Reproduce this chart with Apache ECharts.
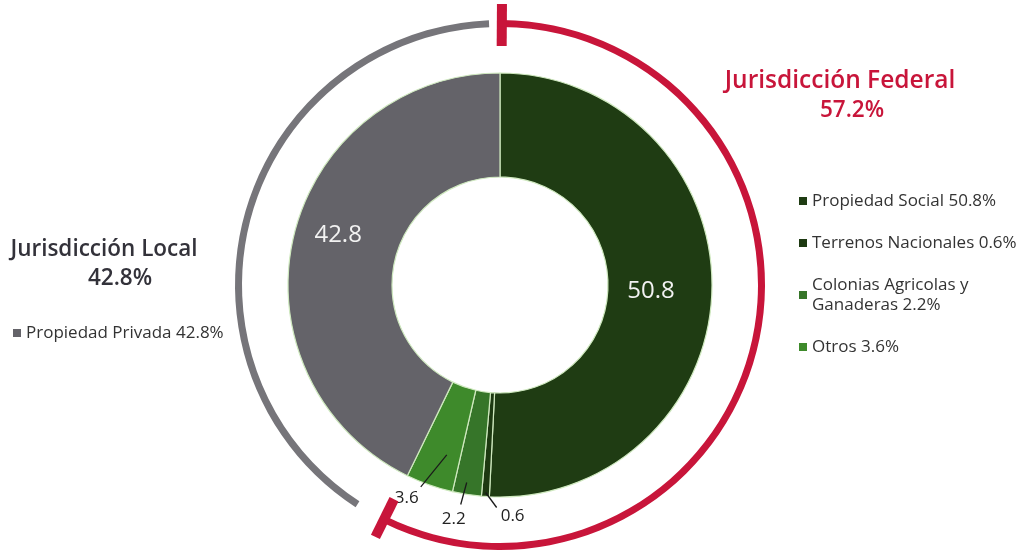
<!DOCTYPE html>
<html>
<head>
<meta charset="utf-8">
<script src="https://cdn.jsdelivr.net/npm/echarts@6/dist/echarts.min.js"></script>
<style>
html,body{margin:0;padding:0;background:#fff;}
#chart{width:1028px;height:554px;}
</style>
</head>
<body>
<div id="chart"></div>
<script>
// ---- data ----
const categories = ['Propiedad Social', 'Terrenos Nacionales', 'Colonias Agricolas y Ganaderas', 'Otros', 'Propiedad Privada'];
const values = [50.8, 0.6, 2.2, 3.6, 42.8];
const groups = ['Jurisdicción Federal', 'Jurisdicción Local'];
const groupValues = [57.2, 42.8];
const federalItems = ['Propiedad Social', 'Terrenos Nacionales', 'Colonias Agricolas y Ganaderas', 'Otros'];
const localItems = ['Propiedad Privada'];

// ---- style ----
const FONT = 'Open Sans';
const sliceColors = ['#1f3c13', '#1d3911', '#367529', '#3e8a2b', '#646369'];
const RED = '#c8153a';
const RING_GREY = '#76757a';
const CX = 500, CY = 285;
const INNER_LABEL = [true, false, false, false, true];
// inside label nudges
const innerShift = { 0: [-12, 2], 4: [-3, -13] };
// small outside labels: start radius, start shift, line vector, label offset
const smallStyle = {
  1: { r: 208, sh: [0, 0], vec: [11, 15], off: [16, 9] },
  2: { r: 200, sh: [-2, 0], vec: [-6, 22], off: [-7, 15] },
  3: { r: 178, sh: [6, 2], vec: [-26, 32], off: [-14, 11] }
};
const OVERLAY_R = 190;

const mainData = categories.map((n, i) => ({
  name: n, value: values[i],
  itemStyle: { color: sliceColors[i] },
  label: { show: INNER_LABEL[i] }
}));
const overlayData = categories.map((n, i) => ({
  name: n, value: values[i],
  label: { show: !INNER_LABEL[i] },
  labelLine: { show: !INNER_LABEL[i] }
}));

const chart = echarts.init(document.getElementById('chart'), null, { renderer: 'canvas' });

function legendText(name) {
  const i = categories.indexOf(name);
  return name.replace('Agricolas y ', 'Agricolas y\n') + ' ' + values[i] + '%';
}

// bars at the ends of the federal arc
const startDeg = 0.4;
const barAngles = [startDeg, startDeg + groupValues[0] / 100 * 360];
const bars = barAngles.map(a => {
  const t = a * Math.PI / 180;
  const s = Math.sin(t), c = Math.cos(t);
  return {
    type: 'line', silent: true, z: 10,
    shape: { x1: CX + 239 * s, y1: CY - 239 * c, x2: CX + 281 * s, y2: CY - 281 * c },
    style: { stroke: RED, lineWidth: 10, lineCap: 'butt' }
  };
});

const legendCommon = {
  orient: 'vertical', padding: 0, itemWidth: 8, itemHeight: 8, icon: 'rect',
  formatter: legendText, selectedMode: false,
  itemStyle: { borderWidth: 0 },
  textStyle: { color: '#333', fontSize: 17, lineHeight: 20, fontFamily: FONT }
};

const option = {
  backgroundColor: '#ffffff',
  animation: false,
  textStyle: { fontFamily: FONT },
  title: [
    { text: groups[0], left: 840, top: 69, textAlign: 'center', padding: 0,
      textStyle: { color: RED, fontSize: 24.5, fontWeight: 600, fontFamily: FONT } },
    { text: groupValues[0] + '%', left: 852, top: 99, textAlign: 'center', padding: 0,
      textStyle: { color: RED, fontSize: 22.5, fontWeight: 600, fontFamily: FONT } },
    { text: groups[1], left: 104, top: 238, textAlign: 'center', padding: 0,
      textStyle: { color: '#33323a', fontSize: 22.5, fontWeight: 600, fontFamily: FONT } },
    { text: groupValues[1] + '%', left: 120, top: 267, textAlign: 'center', padding: 0,
      textStyle: { color: '#33323a', fontSize: 22.5, fontWeight: 600, fontFamily: FONT } }
  ],
  legend: [
    Object.assign({}, legendCommon, { data: federalItems, left: 799, top: 191, itemGap: 22 }),
    Object.assign({}, legendCommon, { data: localItems, left: 13, top: 323 })
  ],
  graphic: bars,
  series: [
    {
      name: 'main', type: 'pie', center: [CX, CY], radius: [108, 212],
      startAngle: 90, clockwise: true, silent: true,
      avoidLabelOverlap: false,
      itemStyle: { borderColor: '#cfe9bf', borderWidth: 1.2 },
      label: { position: 'inside', formatter: '{c}', color: '#f2f2f2', fontSize: 24, fontFamily: FONT },
      labelLine: { show: false },
      labelLayout: function (p) {
        const sh = innerShift[p.dataIndex];
        if (!sh || !p.labelRect) return {};
        const r = p.labelRect;
        return { x: r.x + r.width / 2 + sh[0], y: r.y + r.height / 2 + sh[1], align: 'center', verticalAlign: 'middle' };
      },
      data: mainData
    },
    {
      name: 'labels', type: 'pie', center: [CX, CY], radius: [108, OVERLAY_R],
      startAngle: 90, clockwise: true, silent: true, z: 5,
      avoidLabelOverlap: false,
      itemStyle: { color: 'rgba(0,0,0,0)', borderWidth: 0 },
      label: { position: 'outside', formatter: '{c}', color: '#222', fontSize: 17, fontFamily: FONT },
      labelLine: { show: true, length: 20, length2: 2, lineStyle: { color: '#1a1a1a', width: 1.3 } },
      labelLayout: function (p) {
        const st = smallStyle[p.dataIndex];
        if (!st || !p.labelLinePoints) return {};
        const p0 = p.labelLinePoints[0];
        const k = st.r / OVERLAY_R;
        const s = [CX + (p0[0] - CX) * k + st.sh[0], CY + (p0[1] - CY) * k + st.sh[1]];
        const e = [s[0] + st.vec[0], s[1] + st.vec[1]];
        return {
          x: e[0] + st.off[0], y: e[1] + st.off[1],
          align: 'center', verticalAlign: 'middle',
          labelLinePoints: [s, e, e]
        };
      },
      data: overlayData
    },
    {
      name: 'federalRing', type: 'pie', center: [CX, CY], radius: [258, 265],
      startAngle: 90 - startDeg, clockwise: true, silent: true,
      label: { show: false }, labelLine: { show: false },
      data: [
        { name: groups[0], value: groupValues[0], itemStyle: { color: RED } },
        { name: groups[1], value: groupValues[1], itemStyle: { color: 'rgba(0,0,0,0)' } }
      ]
    },
    {
      name: 'localRing', type: 'pie', center: [CX, CY], radius: [258, 265],
      startAngle: 87.65, clockwise: true, silent: true, padAngle: 9.5,
      label: { show: false }, labelLine: { show: false },
      data: [
        { name: groups[0], value: groupValues[0], itemStyle: { color: 'rgba(0,0,0,0)' } },
        { name: groups[1], value: groupValues[1], itemStyle: { color: RING_GREY } }
      ]
    }
  ]
};
chart.setOption(option);
</script>
</body>
</html>
